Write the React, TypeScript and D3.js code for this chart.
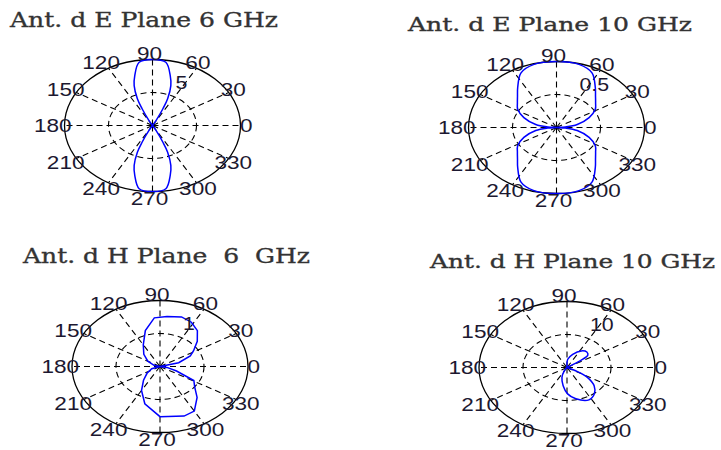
import React from 'react';
import * as d3 from 'd3';

// angular grid
const spokeAngles = [0, 30, 60, 90, 120, 150, 180, 210, 240, 270, 300, 330];
const angleLabels = ['0', '30', '60', '90', '120', '150', '180', '210', '240', '270', '300', '330'];

// panel titles, radial limits and ring labels
const panelTitles = ['Ant. d E Plane 6 GHz', 'Ant. d E Plane 10 GHz', 'Ant. d H Plane  6  GHz', 'Ant. d H Plane 10 GHz'];
const panelRMax = [10, 1, 2, 20];
const panelRingLabels = ['5', '0.5', '1', '10'];

// E plane 6 GHz
const e6Angles = [60, 62, 65, 67, 71, 75, 81, 90, 99, 105, 109, 113, 115, 118, 120,
  240, 242, 245, 247, 251, 255, 261, 270, 279, 285, 289, 293, 295, 298, 300];
const e6Gain = [0, 0.85, 2.8, 4.4, 6.4, 7.8, 9.7, 10, 9.7, 7.8, 6.4, 4.4, 2.8, 0.85, 0,
  0, 0.85, 2.8, 4.4, 6.4, 7.8, 9.7, 10, 9.7, 7.8, 6.4, 4.4, 2.8, 0.85, 0];

// E plane 10 GHz
const e10Angles = [0, 5, 11, 22, 32, 40, 47, 54, 64, 75, 90, 105, 116, 126, 133, 140, 148, 158, 169, 175,
  180, 185, 191, 202, 212, 220, 227, 234, 244, 255, 270, 285, 296, 306, 313, 320, 328, 338, 349, 355];
const e10Gain = [0, 0.1, 0.24, 0.4, 0.52, 0.58, 0.65, 0.75, 0.92, 0.99, 1, 0.99, 0.92, 0.75, 0.65, 0.58, 0.52, 0.4, 0.24, 0.1,
  0, 0.1, 0.24, 0.4, 0.52, 0.58, 0.65, 0.75, 0.92, 0.99, 1, 0.99, 0.92, 0.75, 0.65, 0.58, 0.52, 0.4, 0.24, 0.1];

// H plane 6 GHz
const h6Angles = [0, 15, 25, 32, 42, 52, 62, 72, 84, 95, 107, 120, 135, 150, 165,
  180, 200, 215, 228, 240, 253, 270, 290, 300, 312, 322, 331, 340, 350];
const h6Gain = [0, 0.44, 0.76, 0.9, 1.14, 1.38, 1.52, 1.58, 1.52, 1.48, 1.14, 0.76, 0.52, 0.32, 0.14,
  0, 0.2, 0.36, 0.56, 0.84, 1.18, 1.52, 1.6, 1.56, 1.26, 1.0, 0.88, 0.4, 0.16];

// H plane 10 GHz
const h10Angles = [30, 33, 35, 38, 46, 57, 72, 86, 95,
  230, 239, 249, 261, 271, 282, 297, 308, 318, 327, 332, 335];
const h10Gain = [0, 2.4, 4.4, 6, 6.5, 6, 4.2, 2.5, 0,
  0, 1.2, 3.2, 5.6, 8, 9.7, 11, 10.1, 8.3, 5.6, 2.7, 0];

const panelAngles = [e6Angles, e10Angles, h6Angles, h10Angles];
const panelGains = [e6Gain, e10Gain, h6Gain, h10Gain];

const layout = [
  { cx: 152.5, cy: 125.5, tx: 10, ty: 27, tw: 268, ts: 20, curve: d3.curveCatmullRomClosed },
  { cx: 556.5, cy: 127.5, tx: 408, ty: 30.5, tw: 284, ts: 18.5, curve: d3.curveCatmullRomClosed },
  { cx: 160, cy: 366.5, tx: 23, ty: 263, tw: 287, ts: 20, curve: d3.curveLinearClosed },
  { cx: 567, cy: 367.5, tx: 430, ty: 268, tw: 285, ts: 18.5, curve: d3.curveCatmullRomClosed },
];

const RX = 88;
const RY = 66;
const STRETCH = 1.22;
const LABEL_DX = -3;
const rad = (a: number) => (a * Math.PI) / 180;

const PolarPanel = ({ idx }: { idx: number }) => {
  const L = layout[idx];
  const rmax = panelRMax[idx];
  const x = d3.scaleLinear().domain([-rmax, rmax]).range([L.cx - RX, L.cx + RX]);
  const y = d3.scaleLinear().domain([-rmax, rmax]).range([L.cy + RY, L.cy - RY]);

  const pts: [number, number][] = panelAngles[idx].map((a, i) => {
    const v = panelGains[idx][i];
    return [x(v * Math.cos(rad(a))), y(v * Math.sin(rad(a)))];
  });
  const path = d3.line().curve(L.curve)(pts) || '';

  return (
    <g>
      <text
        x={L.tx}
        y={L.ty}
        fontFamily="DejaVu Serif"
        fontSize={L.ts}
        fill="#333"
        stroke="#333"
        strokeWidth={0.35}
        textLength={L.tw}
        lengthAdjust="spacingAndGlyphs"
        style={{ whiteSpace: 'pre' }}
      >
        {panelTitles[idx]}
      </text>

      {/* spokes */}
      {spokeAngles.map(a => (
        <line
          key={a}
          x1={x(0)}
          y1={y(0)}
          x2={x(rmax * Math.cos(rad(a)))}
          y2={y(rmax * Math.sin(rad(a)))}
          stroke="#000"
          strokeWidth={1.1}
          strokeDasharray="6,4"
        />
      ))}

      {/* inner ring */}
      <ellipse
        cx={x(0)}
        cy={y(0)}
        rx={x(rmax / 2) - x(0)}
        ry={y(0) - y(rmax / 2)}
        fill="none"
        stroke="#000"
        strokeWidth={1.1}
        strokeDasharray="6,4"
      />

      {/* outer ring */}
      <ellipse
        cx={x(0)}
        cy={y(0)}
        rx={x(rmax) - x(0)}
        ry={y(0) - y(rmax)}
        fill="none"
        stroke="#000"
        strokeWidth={1.3}
      />

      {/* pattern */}
      <path d={path} fill="none" stroke="#0000ff" strokeWidth={1.5} />

      {/* angle labels */}
      {spokeAngles.map((a, i) => (
        <text
          key={'l' + a}
          transform={`translate(${x(1.1 * rmax * Math.cos(rad(a))) + LABEL_DX},${y(1.1 * rmax * Math.sin(rad(a)))}) scale(${STRETCH},1)`}
          textAnchor="middle"
          dominantBaseline="central"
          fontFamily="Liberation Sans, Arial, sans-serif"
          fontSize={18.5}
          fill="#1c1830"
        >
          {angleLabels[i]}
        </text>
      ))}

      {/* ring label */}
      <text
        transform={`translate(${x(0.26 * rmax)},${y(0.645 * rmax)}) scale(${STRETCH},1)`}
        textAnchor="start"
        dominantBaseline="central"
        fontFamily="Liberation Sans, Arial, sans-serif"
        fontSize={17.5}
        fill="#1c1830"
      >
        {panelRingLabels[idx]}
      </text>
    </g>
  );
};

const App = () => (
  <svg
    width={721}
    height={450}
    style={{ position: 'absolute', left: 0, top: 0, background: '#fff' }}
  >
    {[0, 1, 2, 3].map(i => (
      <PolarPanel key={i} idx={i} />
    ))}
  </svg>
);

export default App;
